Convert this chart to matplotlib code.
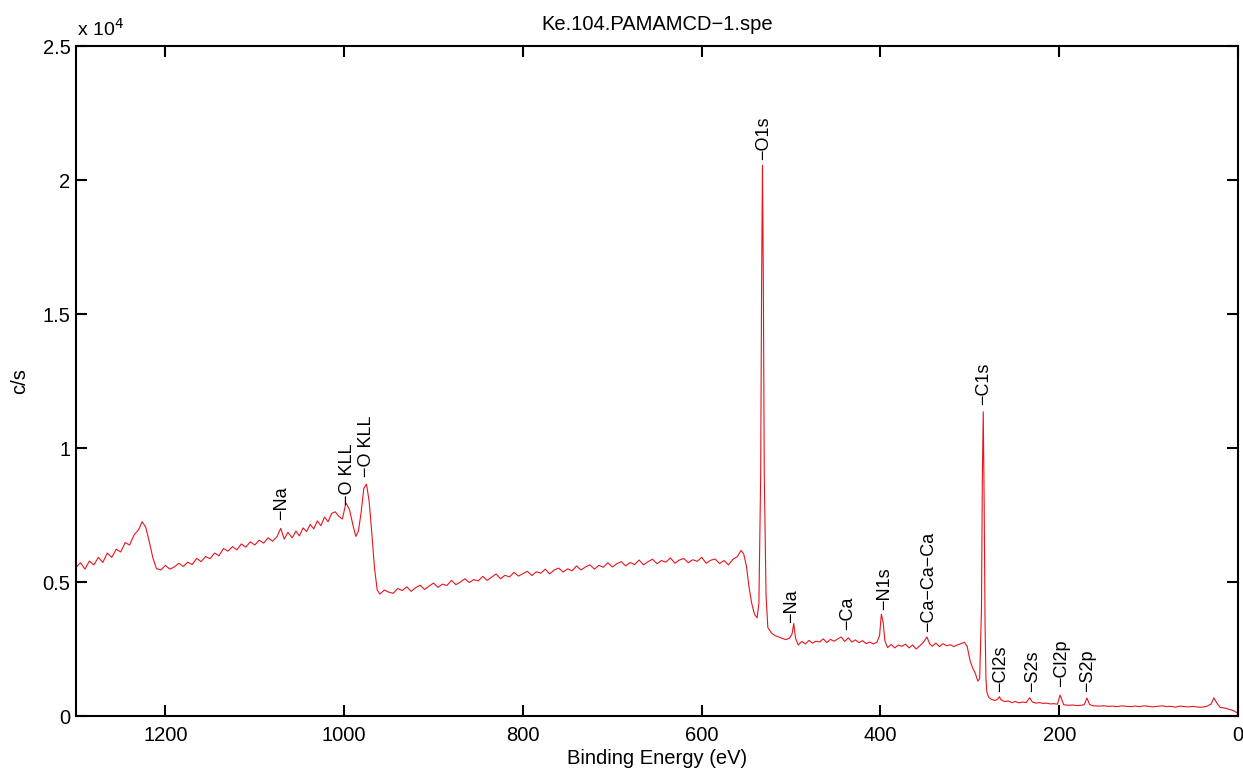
import matplotlib
matplotlib.use("Agg")
import matplotlib.pyplot as plt
from matplotlib.ticker import FixedLocator, FuncFormatter

plt.rcParams['font.family'] = ['Liberation Sans', 'DejaVu Sans']

# ---------------- data ----------------
energy = [
    1300, 1295, 1290, 1285, 1280, 1275, 1270, 1265, 1260, 1255, 1250, 1245, 1240, 1235, 1230,
    1226, 1222, 1218, 1214, 1210, 1205, 1200, 1195, 1190, 1185, 1180, 1175, 1170, 1165, 1160,
    1155, 1150, 1145, 1140, 1135, 1130, 1125, 1120, 1115, 1110, 1105, 1100, 1095, 1090, 1085,
    1080, 1075, 1071, 1067, 1063, 1058, 1054, 1050, 1046, 1042, 1038, 1034, 1030, 1026, 1022,
    1018, 1014, 1010, 1006, 1002, 998, 994, 990, 987, 984, 981, 978, 975, 972, 969,
    966, 963, 960, 955, 950, 945, 940, 935, 930, 925, 920, 915, 910, 905, 900,
    895, 890, 885, 880, 875, 870, 865, 860, 855, 850, 845, 840, 835, 830, 825,
    820, 815, 810, 805, 800, 795, 790, 785, 780, 775, 770, 765, 760, 755, 750,
    745, 740, 735, 730, 725, 720, 715, 710, 705, 700, 695, 690, 685, 680, 675,
    670, 665, 660, 655, 650, 645, 640, 635, 630, 625, 620, 615, 610, 605, 600,
    595, 590, 585, 580, 575, 570, 565, 560, 556, 553, 550, 547,
    544, 541, 538, 536, 534, 533, 532, 531, 530, 528, 526, 522, 518, 514, 510,
    506, 502, 499, 497, 495, 492, 488, 484, 480, 476, 472, 468, 464, 460, 456,
    452, 448, 444, 440, 436, 432, 428, 424, 420, 416, 412, 408, 404, 401, 399,
    397, 395, 392, 388, 384, 380, 376, 372, 368, 364, 360, 356, 352, 348, 345,
    342, 338, 334, 330, 326, 322, 318, 314, 310, 306, 303, 300, 297, 294, 291,
    289, 287, 286, 285, 284, 283, 282, 281, 279, 276, 272, 269, 267, 265, 261,
    257, 253, 249, 245, 241, 237, 233, 230, 226, 222, 218, 214, 210, 206, 202,
    199, 197, 195, 190, 185, 180, 176, 172, 169, 166, 162, 155, 150, 145, 140,
    135, 130, 125, 120, 115, 110, 105, 100, 95, 90, 85, 80, 75, 70, 65,
    60, 55, 50, 45, 40, 35, 30, 27, 24, 20, 15, 10, 5, 0,
]
counts = [
    5550, 5720, 5480, 5780, 5640, 5920, 5730, 6080, 5920, 6220, 6120, 6470, 6380, 6760, 6950,
    7250, 7050, 6500, 5900, 5500, 5450, 5620, 5480, 5560, 5700, 5580, 5740, 5650, 5880, 5760,
    5950, 5870, 6080, 5980, 6250, 6150, 6320, 6200, 6420, 6300, 6500, 6380, 6560, 6450, 6650,
    6520, 6700, 7000, 6600, 6850, 6650, 6900, 6720, 7020, 6880, 7150, 6980, 7280, 7100, 7420,
    7250, 7560, 7620, 7450, 7350, 7950, 7700, 7100, 6700, 6900, 7600, 8500, 8650, 8000, 6800,
    5500, 4700, 4550, 4700, 4620, 4580, 4760, 4680, 4820, 4650, 4790, 4880, 4720, 4850, 4960,
    4800, 4920, 4870, 5060, 4900, 5000, 5120, 4980, 5090, 5040, 5210, 5060, 5180, 5300, 5120,
    5250, 5190, 5360, 5220, 5310, 5400, 5240, 5380, 5330, 5480, 5300, 5450, 5520, 5370, 5490,
    5420, 5600, 5450, 5560, 5640, 5480, 5620, 5550, 5720, 5560, 5680, 5760, 5600, 5730, 5650,
    5820, 5640, 5760, 5850, 5680, 5800, 5740, 5900, 5700, 5820, 5880, 5720, 5830, 5770, 5920,
    5700, 5810, 5860, 5690, 5800, 5640, 5850, 5950, 6180, 6050, 5600, 4800,
    4200, 3800, 3660, 4200, 9000, 16000, 20550, 16000, 9000, 4500, 3300, 3100, 3000, 2950, 2900,
    2850, 2900, 3050, 3450, 2900, 2650, 2780, 2690, 2820, 2720, 2790, 2760, 2880, 2740, 2860,
    2790, 2870, 2950, 2780, 2920, 2760, 2840, 2740, 2810, 2700, 2760, 2690, 2750, 3000, 3800,
    3500, 2800, 2550, 2670, 2540, 2650, 2600, 2680, 2540, 2650, 2500, 2620, 2750, 2950, 2700,
    2600, 2720, 2590, 2700, 2620, 2660, 2590, 2650, 2700, 2750, 2600, 2100, 1800, 1600, 1300,
    1400, 4000, 9000, 11350, 8000, 3500, 1400, 900, 700, 620, 580, 620, 720, 600, 540,
    560, 500, 540, 490, 520, 500, 680, 520, 480, 500, 470, 480, 450, 460, 440,
    780, 600, 420, 400, 410, 390, 400, 420, 670, 430, 380, 370, 380, 360, 370,
    350, 380, 360, 350, 370, 350, 380, 360, 340, 360, 380, 350, 360, 330, 370,
    350, 340, 360, 330, 330, 360, 450, 680, 500, 320, 300, 250, 200, 100,
]

peak_names = ["Na", "O KLL", "O KLL", "O1s", "Na", "Ca", "N1s", "Ca\u2212Ca\u2212Ca",
              "C1s", "Cl2s", "S2s", "Cl2p", "S2p"]
peak_pos = [1070, 996, 975, 531, 499, 437, 395, 346, 285, 266, 230, 197, 168]
peak_label_y = [7310, 7870, 8920, 20740, 3470, 3210, 3950, 3130, 11600, 900, 900, 1080, 900]

title = "Ke.104.PAMAMCD\u22121.spe"
xticks = [1200, 1000, 800, 600, 400, 200, 0]
yticks = [0, 5000, 10000, 15000, 20000, 25000]
ytick_labels = ["0", "0.5", "1", "1.5", "2", "2.5"]

# ---------------- figure ----------------
W, H = 1243, 772
fig = plt.figure(figsize=(W / 100, H / 100), dpi=100)
ax = fig.add_axes([76 / W, 1 - 716 / H, (1238 - 76) / W, (716 - 46) / H])

ax.plot(energy, counts, color='#e8141c', lw=0.8)
ax.set_xlim(1300, 0)
ax.set_ylim(0, 25000)

ax.xaxis.set_major_locator(FixedLocator(xticks))
ax.yaxis.set_major_locator(FixedLocator(yticks))
ax.yaxis.set_major_formatter(FuncFormatter(
    lambda v, p: ytick_labels[yticks.index(int(round(v)))] if int(round(v)) in yticks else ""))

for s in ax.spines.values():
    s.set_linewidth(1.5)
ax.tick_params(direction='in', length=8, width=1.5, top=True, right=True,
               labelsize=14.5, colors='black')
ax.tick_params(axis='x', pad=7)
ax.tick_params(axis='y', pad=4)

for name, xp, yp in zip(peak_names, peak_pos, peak_label_y):
    ax.text(xp, yp, "\u2212" + name, rotation=90, ha='center', va='bottom',
            fontsize=13, color='black')

fig.text(77 / W, 1 - 36 / H, "x 10$^{4}$", fontsize=14, ha='left', va='baseline')
fig.text(657 / W, 1 - 24 / H, title, fontsize=14.5, ha='center', va='center')
fig.text(657 / W, 1 - 758 / H, "Binding Energy (eV)", fontsize=14.5, ha='center', va='center')
fig.text(20 / W, 1 - 381 / H, "c/s", fontsize=14.5, rotation=90, ha='center', va='center')

fig.savefig("out.png", dpi=100)
